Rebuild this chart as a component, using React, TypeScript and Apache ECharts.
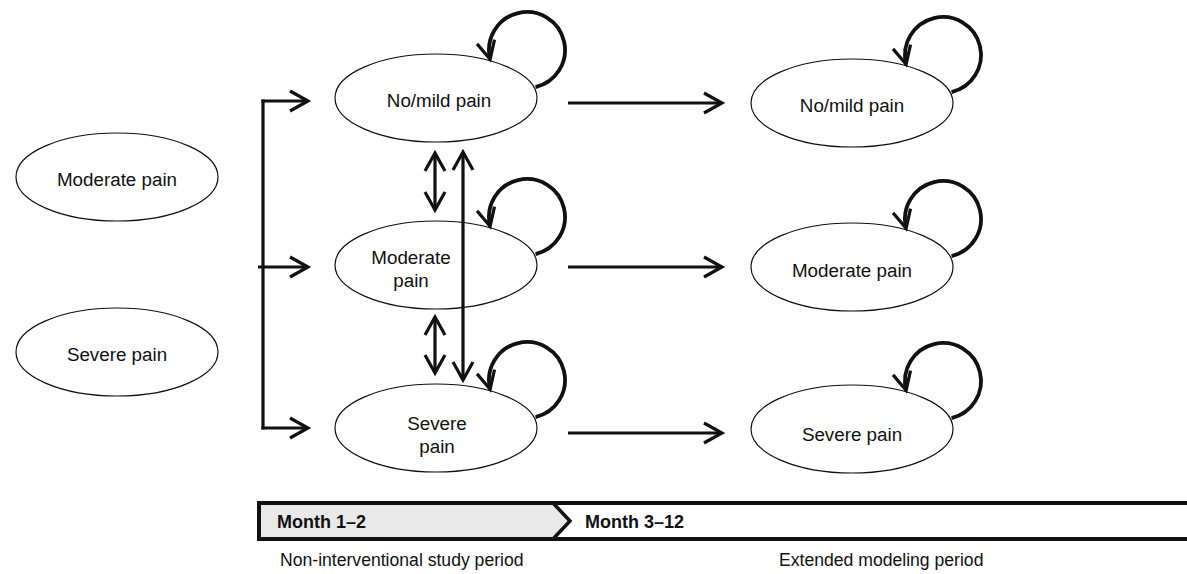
import React, { useEffect, useRef } from "react";
import * as echarts from "echarts";

// ---- Data (labels of the diagram) ----
const INITIAL_STATES = ["Moderate pain", "Severe pain"];
const STUDY_STATES = ["No/mild pain", "Moderate\npain", "Severe\npain"];
const EXTENDED_STATES = ["No/mild pain", "Moderate pain", "Severe pain"];
const PERIODS = ["Month 1–2", "Month 3–12"];
const PERIOD_LABELS = ["Non-interventional study period", "Extended modeling period"];

// ---- Layout ----
const W = 1187;
const H = 574;
const RX = 101;
const RY = 44;
const LEFT_X = 117;
const LEFT_YS = [177, 352];
const MID_X = 436;
const MID_YS = [98, 265, 428];
const MID_TEXT_DX = [3, -25, 1];
const MID_TEXT_DY = [2, 4, 7];
const RIGHT_X = 852;
const RIGHT_YS = [103, 267, 429];
const RIGHT_TEXT_DY = [2, 3, 5];
const ARROW_YS = [103, 267, 433];
const BRACKET_X = 263;
const BRACKET_TIP = 308;
const LOOP_DX = 91;
const LOOP_DY = -48;
const LOOP_R = 38;
const BAR_X = 259;
const BAR_TOP = 503;
const BAR_BOT = 539;
const CHEV_X = 553;
const CHEV_TIP = 570;

const INK = "#111";
const FONT = "'Liberation Sans', Arial, Helvetica, sans-serif";
const FS = 17.6;
const NODE_FS = 18.8;

function head(tx: number, ty: number, dx: number, dy: number, back = 18, spread = 10, lw = 3.2) {
  const len = Math.hypot(dx, dy);
  const ux = dx / len;
  const uy = dy / len;
  const px = -uy;
  const py = ux;
  return {
    type: "polyline",
    shape: {
      points: [
        [tx - ux * back + px * spread, ty - uy * back + py * spread],
        [tx, ty],
        [tx - ux * back - px * spread, ty - uy * back - py * spread],
      ],
    },
    style: { stroke: INK, lineWidth: lw, fill: null, lineJoin: "miter", lineCap: "butt" },
    z: 10,
  };
}

function line(x1: number, y1: number, x2: number, y2: number, lw = 3.2) {
  return {
    type: "line",
    shape: { x1, y1, x2, y2 },
    style: { stroke: INK, lineWidth: lw, lineCap: "butt" },
    z: 10,
  };
}

function ellipse(cx: number, cy: number) {
  return {
    type: "ellipse",
    shape: { cx, cy, rx: RX, ry: RY },
    style: { fill: "#fff", stroke: INK, lineWidth: 1.2 },
    z: 1,
  };
}

function label(x: number, y: number, text: string, extra: any = {}) {
  return {
    type: "text",
    x,
    y,
    style: {
      text,
      fill: INK,
      fontSize: FS,
      fontFamily: FONT,
      align: "center",
      verticalAlign: "middle",
      lineHeight: 23,
      ...extra,
    },
    z: 5,
  };
}

function loop(ex: number, ey: number) {
  const cx = ex + LOOP_DX;
  const cy = ey + LOOP_DY;
  const a0 = (166 * Math.PI) / 180;
  const a1 = (437 * Math.PI) / 180;
  const tipX = cx + LOOP_R * Math.cos(a0);
  const tipY = cy + LOOP_R * Math.sin(a0);
  const dx = Math.sin(a0);
  const dy = -Math.cos(a0);
  return [
    {
      type: "arc",
      shape: { cx, cy, r: LOOP_R, startAngle: a0, endAngle: a1, clockwise: true },
      style: { stroke: INK, lineWidth: 3.8, fill: null },
      z: 10,
    },
    head(tipX, tipY, dx, dy, 18, 9, 3.2),
  ];
}

function buildElements() {
  const els: any[] = [];
  const nodeText = { fontSize: NODE_FS };

  INITIAL_STATES.forEach((s, i) => {
    els.push(ellipse(LEFT_X, LEFT_YS[i]));
    els.push(label(LEFT_X, LEFT_YS[i] + 2, s, nodeText));
  });

  STUDY_STATES.forEach((s, i) => {
    els.push(ellipse(MID_X, MID_YS[i]));
    els.push(label(MID_X + MID_TEXT_DX[i], MID_YS[i] + MID_TEXT_DY[i], s, nodeText));
    els.push(...loop(MID_X, MID_YS[i]));
  });

  EXTENDED_STATES.forEach((s, i) => {
    els.push(ellipse(RIGHT_X, RIGHT_YS[i]));
    els.push(label(RIGHT_X, RIGHT_YS[i] + RIGHT_TEXT_DY[i], s, nodeText));
    els.push(...loop(RIGHT_X, RIGHT_YS[i]));
  });

  const bY = [101, 267, 428];
  els.push(line(BRACKET_X, bY[0] - 1.6, BRACKET_X, bY[2] + 1.6));
  els.push(line(BRACKET_X - 1.6, bY[0], BRACKET_TIP, bY[0]));
  els.push(line(BRACKET_X - 5, bY[1], BRACKET_TIP, bY[1]));
  els.push(line(BRACKET_X - 1.6, bY[2], BRACKET_TIP, bY[2]));
  bY.forEach((y) => els.push(head(BRACKET_TIP, y, 1, 0)));

  ARROW_YS.forEach((y) => {
    els.push(line(568, y, 722, y));
    els.push(head(722, y, 1, 0));
  });

  const dbl = [
    [153, 210],
    [317, 373],
  ];
  dbl.forEach(([a, b]) => {
    els.push(line(435, a, 435, b));
    els.push(head(435, a, 0, -1));
    els.push(head(435, b, 0, 1));
  });
  els.push(line(463, 152, 463, 380));
  els.push(head(463, 152, 0, -1));
  els.push(head(463, 380, 0, 1));

  els.push({
    type: "polygon",
    shape: {
      points: [
        [BAR_X, BAR_TOP],
        [CHEV_X, BAR_TOP],
        [CHEV_TIP, (BAR_TOP + BAR_BOT) / 2],
        [CHEV_X, BAR_BOT],
        [BAR_X, BAR_BOT],
      ],
    },
    style: { fill: "#e9e9e9", stroke: null },
    z: 1,
  });
  els.push({
    type: "polyline",
    shape: {
      points: [
        [W + 5, BAR_TOP],
        [BAR_X, BAR_TOP],
        [BAR_X, BAR_BOT],
        [W + 5, BAR_BOT],
      ],
    },
    style: { stroke: INK, lineWidth: 4, fill: null, lineJoin: "miter" },
    z: 2,
  });
  els.push({
    type: "polyline",
    shape: {
      points: [
        [CHEV_X, BAR_TOP],
        [CHEV_TIP, (BAR_TOP + BAR_BOT) / 2],
        [CHEV_X, BAR_BOT],
      ],
    },
    style: { stroke: INK, lineWidth: 3.5, fill: null, lineJoin: "miter" },
    z: 2,
  });
  const barMid = (BAR_TOP + BAR_BOT) / 2 + 1;
  els.push(label(277, barMid, PERIODS[0], { align: "left", fontWeight: "bold", fontSize: 18 }));
  els.push(label(585, barMid, PERIODS[1], { align: "left", fontWeight: "bold", fontSize: 18 }));
  els.push(label(280, 560, PERIOD_LABELS[0], { align: "left" }));
  els.push(label(779, 560, PERIOD_LABELS[1], { align: "left" }));

  return els;
}

export default function App() {
  const ref = useRef<HTMLDivElement>(null);
  useEffect(() => {
    if (!ref.current) return;
    const chart = echarts.init(ref.current, null, { renderer: "svg" });
    chart.setOption({
      animation: false,
      backgroundColor: "#fff",
      graphic: { elements: buildElements() },
    });
    return () => chart.dispose();
  }, []);
  return (
    <div
      ref={ref}
      style={{ position: "fixed", left: 0, top: 0, width: W, height: H, background: "#fff" }}
    />
  );
}
